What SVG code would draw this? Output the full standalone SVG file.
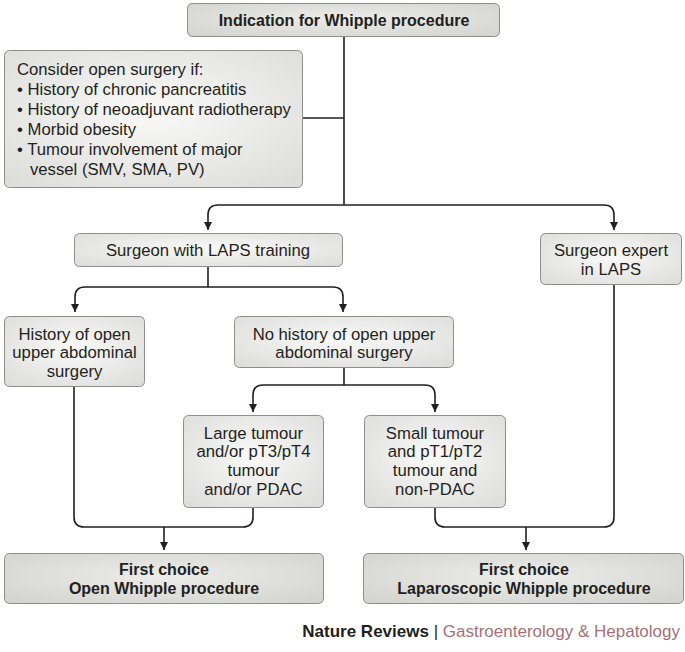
<svg xmlns="http://www.w3.org/2000/svg" width="685" height="652" viewBox="0 0 685 652">
<style>
.bx{stroke:#8e8e8c;stroke-width:1}
.lt{fill:url(#gl)}
.dk{fill:url(#gd)}
.t{font-family:"Liberation Sans",Arial,sans-serif;font-size:16.7px;fill:#231f20}
.c{text-anchor:middle}
.b{font-weight:bold;font-size:16px}
.ln{fill:none;stroke:#231f20;stroke-width:1.6}
.ar{marker-end:url(#ah)}
</style>
<defs>
<radialGradient id="gl" cx="0.5" cy="0.45" r="0.7">
<stop offset="0" stop-color="#f9f9f7"/>
<stop offset="1" stop-color="#dddddb"/>
</radialGradient>
<radialGradient id="gd" cx="0.5" cy="0.45" r="0.7">
<stop offset="0" stop-color="#ececea"/>
<stop offset="1" stop-color="#d3d3cf"/>
</radialGradient>
<marker id="ah" markerUnits="userSpaceOnUse" markerWidth="8" markerHeight="10" refX="8" refY="4" orient="auto" viewBox="0 0 8 8">
<path d="M0,0 L8,4 L0,8 z" fill="#231f20"/>
</marker>
</defs>
<g id="connectors">
<path class="ln" d="M344,36 V205"/>
<path class="ln" d="M303,118 H344"/>
<path class="ln ar" d="M344,205 H218 Q208,205 208,215 V230"/>
<path class="ln ar" d="M344,205 H604 Q614,205 614,215 V230"/>
<path class="ln" d="M208,266 V287"/>
<path class="ln ar" d="M208,287 H85 Q75,287 75,297 V312"/>
<path class="ln ar" d="M208,287 H333 Q343,287 343,297 V312"/>
<path class="ln" d="M344,367 V385"/>
<path class="ln ar" d="M344,385 H263 Q253,385 253,395 V412"/>
<path class="ln ar" d="M344,385 H425 Q435,385 435,395 V412"/>
<path class="ln" d="M74,387 V517 Q74,527 84,527 H243 Q253,527 253,517 V508"/>
<path class="ln ar" d="M164,527 V550"/>
<path class="ln" d="M435,508 V517 Q435,527 445,527 H604 Q614,527 614,517 V284"/>
<path class="ln ar" d="M526,527 V550"/>
</g>
<g id="n-indication">
<rect class="bx dk" x="187.5" y="3.5" width="312" height="33" rx="5"/>
<text class="t c b" x="344" y="26">Indication for Whipple procedure</text>
</g>
<g id="n-consider">
<rect class="bx lt" x="4.5" y="50.5" width="298" height="137" rx="5"/>
<text class="t" x="17" y="75">Consider open surgery if:</text>
<text class="t" x="17" y="95">• History of chronic pancreatitis</text>
<text class="t" x="17" y="115">• History of neoadjuvant radiotherapy</text>
<text class="t" x="17" y="135">• Morbid obesity</text>
<text class="t" x="17" y="155">• Tumour involvement of major</text>
<text class="t" x="30" y="175">vessel (SMV, SMA, PV)</text>
</g>
<g id="n-laps-training">
<rect class="bx lt" x="74.5" y="233.5" width="268" height="33" rx="5"/>
<text class="t c" x="208" y="256">Surgeon with LAPS training</text>
</g>
<g id="n-laps-expert">
<rect class="bx lt" x="540.5" y="233.5" width="141" height="51" rx="5"/>
<text class="t c" x="611" y="256">Surgeon expert</text>
<text class="t c" x="611" y="275">in LAPS</text>
</g>
<g id="n-history">
<rect class="bx lt" x="4.5" y="316.5" width="140" height="70" rx="5"/>
<text class="t c" x="74.5" y="340">History of open</text>
<text class="t c" x="74.5" y="358">upper abdominal</text>
<text class="t c" x="74.5" y="377">surgery</text>
</g>
<g id="n-no-history">
<rect class="bx lt" x="234.5" y="316.5" width="219" height="51" rx="5"/>
<text class="t c" x="344" y="340">No history of open upper</text>
<text class="t c" x="344" y="358">abdominal surgery</text>
</g>
<g id="n-large">
<rect class="bx lt" x="183.5" y="415.5" width="140" height="92" rx="5"/>
<text class="t c" x="253.5" y="439">Large tumour</text>
<text class="t c" x="253.5" y="457">and/or pT3/pT4</text>
<text class="t c" x="253.5" y="476">tumour</text>
<text class="t c" x="253.5" y="495">and/or PDAC</text>
</g>
<g id="n-small">
<rect class="bx lt" x="364.5" y="415.5" width="141" height="92" rx="5"/>
<text class="t c" x="435" y="439">Small tumour</text>
<text class="t c" x="435" y="457">and pT1/pT2</text>
<text class="t c" x="435" y="476">tumour and</text>
<text class="t c" x="435" y="495">non-PDAC</text>
</g>
<g id="n-open">
<rect class="bx dk" x="4.5" y="553.5" width="319" height="50" rx="5"/>
<text class="t c b" x="164" y="575">First choice</text>
<text class="t c b" x="164" y="594">Open Whipple procedure</text>
</g>
<g id="n-lap">
<rect class="bx dk" x="363.5" y="553.5" width="320" height="50" rx="5"/>
<text class="t c b" x="524" y="575">First choice</text>
<text class="t c b" x="524" y="594">Laparoscopic Whipple procedure</text>
</g>
<text class="t" x="680" y="637" text-anchor="end" style="font-size:17px"><tspan font-weight="bold">Nature Reviews</tspan> | <tspan fill="#a5707a">Gastroenterology &amp; Hepatology</tspan></text>
</svg>
